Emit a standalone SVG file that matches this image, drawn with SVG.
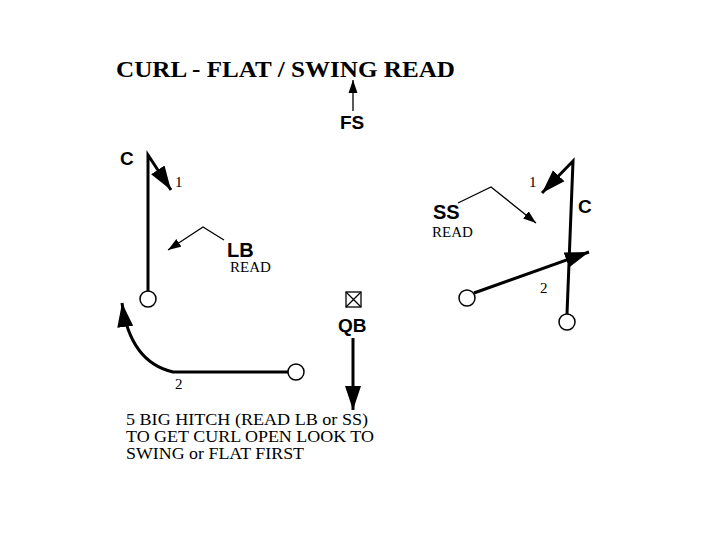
<svg xmlns="http://www.w3.org/2000/svg" width="720" height="540" viewBox="0 0 720 540">
<style>
.serif{font-family:"Liberation Serif","Times New Roman",serif;fill:#000}
.sans{font-family:"Liberation Sans",Arial,sans-serif;font-weight:bold;fill:#000}
.route{stroke:#000;stroke-width:3;fill:none}
.thin{stroke:#000;stroke-width:1.3;fill:none}
.player{fill:#fff;stroke:#000;stroke-width:1.5}
</style>
<defs>
<marker id="big" markerUnits="userSpaceOnUse" markerWidth="26" markerHeight="20" refX="24" refY="10" orient="auto">
<path d="M0,2 L24,10 L0,18 Z" fill="#000"/>
</marker>
<marker id="small" markerUnits="userSpaceOnUse" markerWidth="14" markerHeight="10" refX="13" refY="5" orient="auto">
<path d="M0,0.5 L13,5 L0,9.5 Z" fill="#000"/>
</marker>
</defs>
<rect width="720" height="540" fill="#fff"/>
<text class="serif" x="116" y="77" font-size="24" font-weight="bold" textLength="339" lengthAdjust="spacingAndGlyphs">CURL - FLAT / SWING READ</text>

<g id="connectors">
<line class="thin" x1="353" y1="111" x2="353" y2="80" marker-end="url(#small)"/>
<path class="route" d="M148,291 L148,155 L171,190" marker-end="url(#big)"/>
<polyline class="thin" points="224,240 203,227 168,250" marker-end="url(#small)"/>
<path class="route" d="M288,372 L173,372 Q130,362 122,303" marker-end="url(#big)"/>
<line class="route" x1="353" y1="338" x2="353" y2="410" marker-end="url(#big)"/>
<path class="route" d="M567,314 L573,161 L542,193" marker-end="url(#big)"/>
<line class="route" x1="474" y1="293" x2="589" y2="252" marker-end="url(#big)"/>
<polyline class="thin" points="458,203 491,187 536,223" marker-end="url(#small)"/>
</g>

<g id="FS"><text class="sans" x="340" y="129" font-size="19">FS</text></g>
<g id="C-left"><text class="sans" x="120" y="165" font-size="19">C</text><text class="serif" x="175" y="187" font-size="15">1</text></g>
<g id="LB"><text class="sans" x="227" y="257" font-size="20">LB</text><text class="serif" x="230" y="272" font-size="15">READ</text></g>
<g id="WR-left"><circle class="player" cx="148" cy="299" r="8"/></g>
<g id="RB-left"><circle class="player" cx="296" cy="372" r="8"/><text class="serif" x="175" y="389" font-size="15">2</text></g>
<g id="QB">
<rect x="346" y="292" width="15" height="15" fill="#fff" stroke="#000" stroke-width="1.3"/>
<path d="M346,292 L361,307 M361,292 L346,307" stroke="#000" stroke-width="1.3"/>
<text class="sans" x="338" y="332" font-size="19">QB</text>
</g>
<g id="SS"><text class="sans" x="433" y="219" font-size="20">SS</text><text class="serif" x="432" y="237" font-size="15">READ</text></g>
<g id="C-right"><text class="serif" x="529" y="187" font-size="15">1</text><text class="sans" x="578" y="213" font-size="19">C</text></g>
<g id="WR-right"><circle class="player" cx="567" cy="322" r="8"/></g>
<g id="RB-right"><circle class="player" cx="467" cy="298" r="8"/><text class="serif" x="540" y="293" font-size="15">2</text></g>
<g id="note">
<text class="serif" x="126" y="425" font-size="16" textLength="242" lengthAdjust="spacingAndGlyphs">5 BIG HITCH (READ LB or SS)</text>
<text class="serif" x="126" y="442" font-size="16" textLength="248" lengthAdjust="spacingAndGlyphs">TO GET CURL OPEN LOOK TO</text>
<text class="serif" x="126" y="459" font-size="16" textLength="178" lengthAdjust="spacingAndGlyphs">SWING or FLAT FIRST</text>
</g>
</svg>
